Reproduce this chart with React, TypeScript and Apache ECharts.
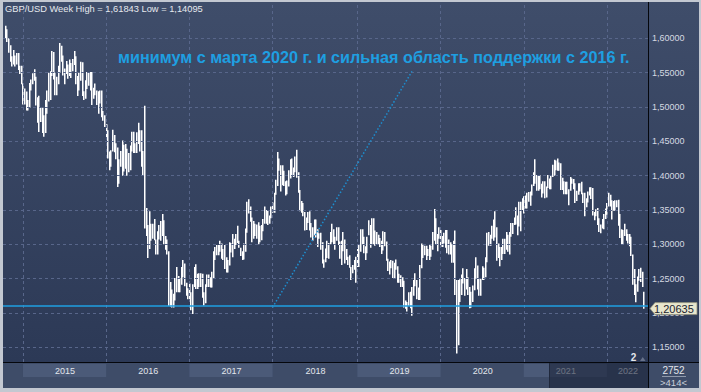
import React, { useEffect, useRef } from 'react';
import * as echarts from 'echarts';

// ---------- data ----------
const START_WEEK = Date.UTC(2014, 9, 20); // first weekly bar (Mon 20 Oct 2014)
const DAY = 86400000;
const WEEK = 7 * DAY;

const HIGH_2014 = [1.6184, 1.6130, 1.6000, 1.5900, 1.5740, 1.5830, 1.5750, 1.5785, 1.5785, 1.5600, 1.5600];
const LOW_2014 = [1.6005, 1.5945, 1.5790, 1.5660, 1.5590, 1.5620, 1.5590, 1.5620, 1.5540, 1.5480, 1.5330];

const HIGH_2015 = [
  1.5340, 1.5270, 1.5225, 1.5100, 1.5350, 1.5400, 1.5490, 1.5550, 1.5440, 1.5140, 1.5165, 1.4990, 1.4990,
  1.4880, 1.5100, 1.5240, 1.5500, 1.5520, 1.5815, 1.5800, 1.5500, 1.5440, 1.5600, 1.5930, 1.5890, 1.5750,
  1.5560, 1.5670, 1.5620, 1.5690, 1.5640, 1.5700, 1.5815, 1.5740, 1.5450, 1.5500, 1.5660, 1.5650, 1.5230,
  1.5390, 1.5510, 1.5510, 1.5510, 1.5510, 1.5280, 1.5340, 1.5240, 1.5230, 1.5240, 1.5240, 1.4940, 1.4880,
];
const LOW_2015 = [
  1.5035, 1.5035, 1.4950, 1.4950, 1.4990, 1.5240, 1.5330, 1.5380, 1.5020, 1.4770, 1.4635, 1.4780, 1.4620,
  1.4565, 1.4620, 1.4900, 1.5080, 1.5100, 1.5450, 1.5400, 1.5170, 1.5170, 1.5330, 1.5500, 1.5660, 1.5460,
  1.5330, 1.5480, 1.5410, 1.5450, 1.5420, 1.5520, 1.5610, 1.5330, 1.5160, 1.5240, 1.5380, 1.5160, 1.5100,
  1.5120, 1.5260, 1.5310, 1.5240, 1.5030, 1.5120, 1.5170, 1.5030, 1.4900, 1.5050, 1.4850, 1.4800, 1.4710,
];

const HIGH_2016 = [
  1.4750, 1.4660, 1.4350, 1.4370, 1.4670, 1.4590, 1.4470, 1.4410, 1.4240, 1.4360, 1.4510, 1.4450, 1.4460,
  1.4390, 1.4330, 1.4440, 1.4640, 1.4640, 1.4470, 1.4630, 1.4770, 1.4660, 1.4660, 1.4360, 1.5018, 1.3530,
  1.3280, 1.3480, 1.3300, 1.3300, 1.3370, 1.3070, 1.3190, 1.3280, 1.3340, 1.3440, 1.3350, 1.3120, 1.3070,
  1.2900, 1.2450, 1.2340, 1.2280, 1.2510, 1.2670, 1.2540, 1.2510, 1.2670, 1.2770, 1.2720, 1.2440, 1.2360,
];
const LOW_2016 = [
  1.4560, 1.4250, 1.4080, 1.4130, 1.4350, 1.4340, 1.4240, 1.3835, 1.3880, 1.4130, 1.4000, 1.4060, 1.4100,
  1.4000, 1.4050, 1.4080, 1.4350, 1.4330, 1.4330, 1.4330, 1.4460, 1.4350, 1.4130, 1.4010, 1.3229, 1.3120,
  1.2800, 1.2930, 1.3050, 1.3080, 1.3060, 1.2850, 1.2850, 1.3070, 1.3050, 1.3120, 1.3000, 1.2920, 1.2850,
  1.2100, 1.2090, 1.2080, 1.2080, 1.2180, 1.2300, 1.2300, 1.2300, 1.2410, 1.2520, 1.2390, 1.2250, 1.2200,
];

const HIGH_2017 = [
  1.2430, 1.2300, 1.2420, 1.2670, 1.2710, 1.2570, 1.2580, 1.2580, 1.2570, 1.2300, 1.2420, 1.2560, 1.2560,
  1.2520, 1.2600, 1.2900, 1.2960, 1.2990, 1.2990, 1.3050, 1.3010, 1.2930, 1.2990, 1.2810, 1.2770, 1.3030,
  1.3020, 1.3150, 1.3080, 1.3150, 1.3270, 1.3050, 1.2950, 1.2900, 1.3010, 1.3230, 1.3620, 1.3657, 1.3550,
  1.3390, 1.3340, 1.3300, 1.3290, 1.3320, 1.3270, 1.3280, 1.3370, 1.3550, 1.3500, 1.3490, 1.3420, 1.3550,
];
const LOW_2017 = [
  1.2200, 1.2040, 1.1986, 1.2380, 1.2350, 1.2350, 1.2380, 1.2380, 1.2220, 1.2110, 1.2140, 1.2380, 1.2380,
  1.2370, 1.2370, 1.2510, 1.2770, 1.2840, 1.2840, 1.2890, 1.2790, 1.2770, 1.2640, 1.2590, 1.2590, 1.2690,
  1.2880, 1.2810, 1.2930, 1.2990, 1.3020, 1.2950, 1.2830, 1.2770, 1.2780, 1.2890, 1.3170, 1.3450, 1.3330,
  1.3030, 1.3080, 1.3120, 1.3080, 1.3000, 1.3030, 1.3060, 1.3190, 1.3300, 1.3300, 1.3280, 1.3300, 1.3380,
];

const HIGH_2018 = [
  1.3610, 1.3750, 1.3940, 1.4345, 1.4250, 1.4150, 1.4150, 1.4070, 1.3920, 1.3930, 1.4080, 1.4240, 1.4250,
  1.4120, 1.4280, 1.4377, 1.4050, 1.3790, 1.3630, 1.3600, 1.3470, 1.3390, 1.3470, 1.3480, 1.3310, 1.3250,
  1.3360, 1.3360, 1.3220, 1.3160, 1.3170, 1.3030, 1.2780, 1.2940, 1.3050, 1.3020, 1.3180, 1.3300, 1.3220,
  1.3110, 1.3250, 1.3250, 1.3040, 1.3050, 1.3180, 1.3070, 1.2930, 1.2820, 1.2840, 1.2670, 1.2700, 1.2770,
  1.2820,
];
const LOW_2018 = [
  1.3460, 1.3460, 1.3720, 1.3850, 1.4070, 1.3770, 1.3860, 1.3850, 1.3710, 1.3730, 1.3840, 1.3960, 1.3990,
  1.3980, 1.4050, 1.3970, 1.3750, 1.3480, 1.3460, 1.3410, 1.3200, 1.3210, 1.3310, 1.3200, 1.3100, 1.3050,
  1.3130, 1.3100, 1.2960, 1.3080, 1.2920, 1.2720, 1.2660, 1.2740, 1.2800, 1.2790, 1.3000, 1.3030, 1.3000,
  1.2920, 1.3050, 1.2990, 1.2790, 1.2700, 1.2900, 1.2720, 1.2770, 1.2700, 1.2660, 1.2480, 1.2580, 1.2630,
  1.2440,
];

const HIGH_2019 = [
  1.2930, 1.2990, 1.3220, 1.3220, 1.3110, 1.2970, 1.3110, 1.3350, 1.3280, 1.3380, 1.3380, 1.3200, 1.3180,
  1.3140, 1.3090, 1.3050, 1.3190, 1.3180, 1.3040, 1.2790, 1.2750, 1.2770, 1.2760, 1.2730, 1.2780, 1.2680,
  1.2570, 1.2550, 1.2520, 1.2470, 1.2180, 1.2160, 1.2300, 1.2310, 1.2380, 1.2480, 1.2580, 1.2480, 1.2370,
  1.2700, 1.3010, 1.2990, 1.2980, 1.2980, 1.2930, 1.2990, 1.2980, 1.3180, 1.3514, 1.3380, 1.3150, 1.3250,
];
const LOW_2019 = [
  1.2670, 1.2670, 1.2890, 1.3000, 1.2870, 1.2770, 1.2870, 1.3130, 1.2950, 1.3000, 1.3000, 1.2980, 1.3000,
  1.3000, 1.2960, 1.2860, 1.2910, 1.2970, 1.2760, 1.2610, 1.2560, 1.2650, 1.2510, 1.2500, 1.2630, 1.2440,
  1.2440, 1.2380, 1.2380, 1.2080, 1.2060, 1.2020, 1.2100, 1.2070, 1.1959, 1.2250, 1.2390, 1.2200, 1.2190,
  1.2190, 1.2650, 1.2800, 1.2840, 1.2770, 1.2830, 1.2770, 1.2820, 1.2920, 1.3050, 1.2990, 1.2900, 1.3080,
];

const HIGH_2020 = [
  1.3210, 1.3120, 1.3170, 1.3210, 1.3210, 1.3070, 1.3030, 1.3000, 1.3050, 1.3200, 1.2480, 1.2480, 1.2490,
  1.2560, 1.2650, 1.2510, 1.2640, 1.2520, 1.2380, 1.2310, 1.2400, 1.2650, 1.2810, 1.2690, 1.2510, 1.2500,
  1.2680, 1.2660, 1.2810, 1.3170, 1.3180, 1.3140, 1.3270, 1.3360, 1.3480, 1.3250, 1.3010, 1.2960, 1.2960,
  1.3080, 1.3080, 1.3180, 1.3140, 1.3180, 1.3310, 1.3310, 1.3390, 1.3540, 1.3420, 1.3620, 1.3620, 1.3670,
];
const LOW_2020 = [
  1.2960, 1.2960, 1.3010, 1.2950, 1.2870, 1.2850, 1.2850, 1.2730, 1.2730, 1.2260, 1.1409, 1.1530, 1.2160,
  1.2260, 1.2430, 1.2250, 1.2340, 1.2260, 1.2070, 1.2075, 1.2160, 1.2330, 1.2500, 1.2340, 1.2250, 1.2250,
  1.2480, 1.2480, 1.2520, 1.2740, 1.2980, 1.2980, 1.3080, 1.3050, 1.3100, 1.2760, 1.2800, 1.2680, 1.2770,
  1.2860, 1.2860, 1.2920, 1.2890, 1.2850, 1.3110, 1.3150, 1.3280, 1.3290, 1.3130, 1.3260, 1.3190, 1.3500,
];

const HIGH_2021 = [
  1.3700, 1.3710, 1.3750, 1.3760, 1.3770, 1.3870, 1.4050, 1.4240, 1.4010, 1.4000, 1.4010, 1.3880, 1.3920,
  1.3920, 1.3840, 1.4010, 1.3960, 1.4000, 1.4160, 1.4230, 1.4220, 1.4250, 1.4190, 1.4180, 1.3970, 1.3920,
  1.3910, 1.3910, 1.3800, 1.3980, 1.3960, 1.3950, 1.3890, 1.3780, 1.3890, 1.3890, 1.3910, 1.3750, 1.3750,
  1.3670, 1.3770, 1.3830, 1.3830, 1.3820, 1.3470, 1.3510, 1.3530, 1.3380, 1.3290, 1.3370, 1.3440, 1.3520,
];
const LOW_2021 = [
  1.3450, 1.3520, 1.3520, 1.3620, 1.3560, 1.3710, 1.3850, 1.3880, 1.3780, 1.3780, 1.3800, 1.3680, 1.3740,
  1.3670, 1.3680, 1.3820, 1.3800, 1.3800, 1.3980, 1.4000, 1.4080, 1.4070, 1.4070, 1.3790, 1.3790, 1.3730,
  1.3730, 1.3730, 1.3570, 1.3780, 1.3880, 1.3800, 1.3600, 1.3630, 1.3720, 1.3770, 1.3730, 1.3600, 1.3410,
  1.3540, 1.3610, 1.3710, 1.3660, 1.3420, 1.3350, 1.3410, 1.3280, 1.3180, 1.3160, 1.3230, 1.3220, 1.3370,
];

const HIGH_2022 = [
  1.3600, 1.3750, 1.3720, 1.3640, 1.3630, 1.3640, 1.3640, 1.3650, 1.3440, 1.3220, 1.3210, 1.3300, 1.3220,
  1.3150, 1.3150, 1.3110, 1.2850, 1.2640, 1.2420, 1.2530, 1.2640, 1.2660, 1.2600, 1.2310,
];
const LOW_2022 = [
  1.3430, 1.3550, 1.3550, 1.3360, 1.3490, 1.3490, 1.3540, 1.3270, 1.3090, 1.3000, 1.3000, 1.3120, 1.3050,
  1.3010, 1.2970, 1.2830, 1.2410, 1.2260, 1.2155, 1.2310, 1.2470, 1.2450, 1.2380, 1.2063,
];

const HIGHS = [
  ...HIGH_2014, ...HIGH_2015, ...HIGH_2016, ...HIGH_2017, ...HIGH_2018,
  ...HIGH_2019, ...HIGH_2020, ...HIGH_2021, ...HIGH_2022,
];
const LOWS = [
  ...LOW_2014, ...LOW_2015, ...LOW_2016, ...LOW_2017, ...LOW_2018,
  ...LOW_2019, ...LOW_2020, ...LOW_2021, ...LOW_2022,
];

const Y_TICKS = [1.15, 1.2, 1.25, 1.3, 1.35, 1.4, 1.45, 1.5, 1.55, 1.6];
const YEARS = [2015, 2016, 2017, 2018, 2019, 2020, 2021, 2022];
const LAST_PRICE = 1.20635;
const TREND_FROM = { date: Date.UTC(2018, 0, 1), price: 1.208 };
const TREND_TO = { date: Date.UTC(2019, 8, 3), price: 1.552 };
const TITLE = 'GBP/USD Week High = 1,61843 Low = 1,14095';
const NOTE = 'минимум с марта 2020 г. и сильная область поддержки с 2016 г.';
const BAR_TOTAL = '2752';
const BARS_VISIBLE = '>414<';
const PAGE_MARK = '2';

// visible window of the axes
const X_MIN = START_WEEK - 10.5 * DAY;
const X_MAX = X_MIN + 2822 * DAY;
const Y_MIN = 1.1286;
const Y_MAX = 1.6514;

const FF = '"Liberation Sans", Arial, Helvetica, sans-serif';
const fnt = (size: number, weight = 'normal') => `${weight} ${size}px ${FF}`;
const fmt = (v: number) => v.toFixed(5).replace('.', ',');

export default function App() {
  const ref = useRef<HTMLDivElement>(null);

  useEffect(() => {
    if (!ref.current) return;
    const chart = echarts.init(ref.current, null, { renderer: 'svg', width: 701, height: 392 });

    const weeks = HIGHS.map((h, i) => [START_WEEK + i * WEEK, h, LOWS[i]]);
    const bounds = YEARS.map((y) => {
      const w = weeks.find((d) => new Date(d[0]).getUTCFullYear() === y);
      return w ? w[0] : X_MAX;
    });
    const bands = YEARS.map((y, k) => [bounds[k], k + 1 < bounds.length ? bounds[k + 1] : X_MAX, y, k % 2 === 0 ? 1 : 0]);

    const option: any = {
      animation: false,
      backgroundColor: 'transparent',
      grid: [
        { left: 3, right: 53, top: 3, height: 359 },
        { left: 3, right: 53, top: 362, height: 26 },
      ],
      xAxis: [
        { type: 'time', gridIndex: 0, min: X_MIN, max: X_MAX, show: false },
        { type: 'time', gridIndex: 1, min: X_MIN, max: X_MAX, show: false },
      ],
      yAxis: [
        {
          type: 'value', gridIndex: 0, position: 'right', min: Y_MIN, max: Y_MAX,
          axisLine: { show: false }, axisTick: { show: false }, splitLine: { show: false },
          axisLabel: {
            customValues: Y_TICKS, formatter: (v: number) => fmt(v),
            color: '#d5dae2', fontSize: 9, fontFamily: FF, margin: 4,
          },
        },
        { type: 'value', gridIndex: 1, min: 0, max: 1, show: false },
      ],
      series: [
        {
          type: 'line', xAxisIndex: 0, yAxisIndex: 0, data: [], z: 1, silent: true,
          markLine: {
            silent: true, symbol: ['none', 'none'], label: { show: false },
            lineStyle: { color: '#58668a', type: [3, 3], width: 1 },
            data: [
              ...Y_TICKS.map((v) => ({ yAxis: v })),
              ...bounds.map((t) => ({ xAxis: t })),
            ],
          },
        },
        {
          type: 'custom', xAxisIndex: 0, yAxisIndex: 0, z: 2, clip: true,
          data: weeks,
          encode: { x: 0, y: [1, 2] },
          renderItem: (params: any, api: any) => {
            const t = api.value(0);
            const top = api.coord([t, api.value(1)]);
            const bot = api.coord([t, api.value(2)]);
            const x = Math.floor(top[0]);
            return {
              type: 'rect',
              shape: { x, y: top[1], width: 1.5, height: Math.max(1, bot[1] - top[1]) },
              style: { fill: '#ffffff' },
            };
          },
        },
        {
          type: 'line', xAxisIndex: 0, yAxisIndex: 0, data: [], z: 5, silent: true,
          markLine: {
            silent: true, symbol: ['none', 'none'], label: { show: false },
            lineStyle: { color: '#1f9fe2', type: 'solid', width: 1.6 },
            data: [{ yAxis: LAST_PRICE }],
          },
        },
        {
          type: 'line', xAxisIndex: 0, yAxisIndex: 0, data: [], z: 5, silent: true,
          markLine: {
            silent: true, symbol: ['none', 'none'], label: { show: false },
            lineStyle: { color: '#1d8fd0', type: [1.5, 2], width: 1.5 },
            data: [[
              { coord: [TREND_FROM.date, TREND_FROM.price] },
              { coord: [TREND_TO.date, TREND_TO.price] },
            ]],
          },
        },
        {
          type: 'custom', xAxisIndex: 1, yAxisIndex: 1, z: 2, clip: true,
          data: bands,
          renderItem: (params: any, api: any) => {
            const a = api.coord([api.value(0), 1]);
            const b = api.coord([api.value(1), 1]);
            const cs = params.coordSys;
            const children: any[] = [];
            if (api.value(3) === 1) {
              children.push({
                type: 'rect',
                shape: { x: a[0], y: cs.y + 2, width: b[0] - a[0], height: 13 },
                style: { fill: '#4b5a78' },
              });
            }
            children.push({
              type: 'text',
              style: {
                text: String(api.value(2)), x: (a[0] + b[0]) / 2 + 0.5, y: cs.y + 8.5,
                align: 'center', verticalAlign: 'middle', textAlign: 'center', textVerticalAlign: 'middle',
                fill: '#e2e6ec', font: fnt(9),
              },
            });
            return { type: 'group', children };
          },
        },
      ],
    };

    chart.setOption(option);

    const py = chart.convertToPixel({ yAxisIndex: 0 }, LAST_PRICE) as number;
    const txt = (x: number, y: number, text: string, fill: string, font: string, align = 'left') => ({
      type: 'text', x, y, z: 100,
      style: { text, fill, font, align, textAlign: align, verticalAlign: 'middle', textVerticalAlign: 'middle' },
    });

    chart.setOption({
      graphic: [
        txt(5, 8.5, TITLE, '#e6e9ee', fnt(9.3)),
        txt(118, 57, NOTE, '#1e9fe1', fnt(16.2, 'bold')),
        { type: 'line', z: 100, shape: { x1: 648.5, y1: 2, x2: 648.5, y2: 388 }, style: { stroke: '#05070c', lineWidth: 1 } },
        { type: 'line', z: 100, shape: { x1: 3, y1: 362.5, x2: 699, y2: 362.5 }, style: { stroke: '#05070c', lineWidth: 1 } },
        { type: 'rect', z: 100, shape: { x: 549, y: 363, width: 99, height: 25 }, style: { fill: 'rgba(26,35,56,0.6)' } },
        { type: 'line', z: 100, shape: { x1: 549.5, y1: 363, x2: 549.5, y2: 388 }, style: { stroke: '#1f283c', lineWidth: 1 } },
        {
          type: 'polygon', z: 100,
          shape: { points: [[650, py], [655, py - 6], [697, py - 6], [697, py + 6], [655, py + 6]] },
          style: { fill: '#e8e6cd', stroke: '#8e8e7a', lineWidth: 0.8 },
        },
        txt(654, py + 0.5, fmt(LAST_PRICE), '#1c2330', fnt(11)),
        txt(633.5, 357.5, PAGE_MARK, '#e4e7ec', fnt(10, 'bold'), 'center'),
        { type: 'polygon', z: 100, shape: { points: [[640, 361], [645.5, 361], [642.75, 357]] }, style: { fill: '#66718a' } },
        txt(673.5, 370, BAR_TOTAL, '#e3e6eb', fnt(10), 'center'),
        { type: 'line', z: 100, shape: { x1: 662, y1: 376.5, x2: 686, y2: 376.5 }, style: { stroke: '#8f99aa', lineWidth: 1 } },
        txt(673.5, 382.5, BARS_VISIBLE, '#c9cfd9', fnt(9.5), 'center'),
      ],
    });

    return () => chart.dispose();
  }, []);

  return (
    <div style={{ position: 'fixed', left: 0, top: 0, width: 701, height: 392, background: '#c3c8d1', overflow: 'hidden' }}>
      <div
        style={{
          position: 'absolute', left: 3, top: 2, width: 696, height: 386,
          background: 'linear-gradient(to bottom, #3f4d6a 0px, #2c3956 360px, #3e4c68 360px, #3e4c68 386px)',
        }}
      />
      <div ref={ref} style={{ position: 'absolute', left: 0, top: 0, width: 701, height: 392 }} />
    </div>
  );
}
